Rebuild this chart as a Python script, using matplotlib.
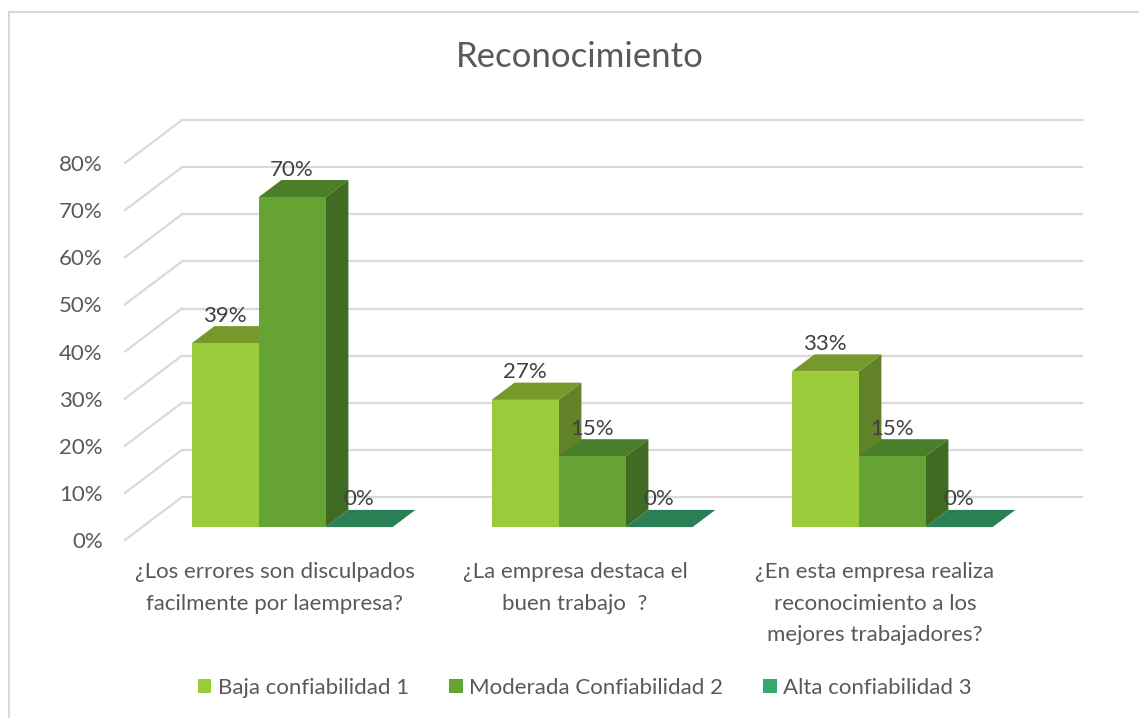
import matplotlib
matplotlib.use("Agg")
import matplotlib.pyplot as plt
from matplotlib.patches import Polygon, Rectangle
from matplotlib.lines import Line2D

categories = ["¿Los errores son disculpados\nfacilmente por laempresa?",
              "¿La empresa destaca el\nbuen trabajo  ?",
              "¿En esta empresa realiza\nreconocimiento a los\nmejores trabajadores?"]
series_names = ["Baja confiabilidad 1", "Moderada Confiabilidad 2", "Alta confiabilidad 3"]
baja = [39, 27, 33]
moderada = [70, 15, 15]
alta = [0, 0, 0]
yticks = [0, 10, 20, 30, 40, 50, 60, 70, 80]

front_colors = ["#9ACB3A", "#66A335", "#2A7F55"]
top_colors = ["#77992C", "#4B7E28", "#2A7F55"]
side_colors = ["#62822A", "#3F6B22", "#23684A"]
legend_colors = ["#9ACB3A", "#66A335", "#35A86E"]
text_color = "#595959"
grid_color = "#D9D9D9"

plt.rcParams['font.family'] = ['Lato', 'DejaVu Sans']

W, H = 1139, 718
fig = plt.figure(figsize=(W / 100, H / 100), dpi=100)
# front plane: x 0..3 -> px 125..1025, y 0..80 -> px 540..163
ax = fig.add_axes([125 / W, 1 - 540 / H, 900 / W, 377 / H])
ax.set_xlim(0, 3)
ax.set_ylim(0, 80)
for s in ax.spines.values():
    s.set_visible(False)

px_per_x = 900 / 3
px_per_y = 377 / 80
DX = 57 / px_per_x      # depth offset in x units
DY = 43 / px_per_y      # depth offset in y units
f0, f1 = 0.30, 0.70     # bar depth range (fraction)

# gridlines: side wall diagonal + back wall
for t in yticks:
    ax.add_line(Line2D([0, DX], [t, t + DY], color=grid_color, lw=1.6, clip_on=False, zorder=1))
    ax.add_line(Line2D([DX, 3 + DX], [t + DY, t + DY], color=grid_color, lw=1.6, clip_on=False, zorder=1))

ax.set_yticks(yticks)
ax.set_yticklabels([f"{t}%" for t in yticks])
ax.set_xticks([0.5, 1.5, 2.5])
ax.set_xticklabels(categories, linespacing=1.72)
ax.tick_params(axis='y', length=0, pad=16, labelsize=16, labelcolor=text_color)
ax.tick_params(axis='x', length=0, pad=16, labelsize=16, labelcolor=text_color)
for lab in ax.get_xticklabels():
    lab.set_verticalalignment('top')
    lab.set_horizontalalignment('center')
    lab.set_multialignment('center')

w = 0.2233
gap_left = (1 - 3 * w) / 2
bx, by = (f1 - f0) * DX, (f1 - f0) * DY
ox, oy = f0 * DX, f0 * DY
all_series = [baja, moderada, alta]
z = 3
for j in range(3):
    for i, vals in enumerate(all_series):
        v = vals[j]
        x0 = j + gap_left + i * w + ox
        y0 = oy
        if v > 0:
            ax.bar(x0, v, width=w, bottom=y0, align='edge', color=front_colors[i],
                   edgecolor='none', zorder=z + 2, clip_on=False)
            side = Polygon([(x0 + w, y0), (x0 + w + bx, y0 + by), (x0 + w + bx, y0 + v + by),
                            (x0 + w, y0 + v)], closed=True, facecolor=side_colors[i],
                           edgecolor='none', zorder=z + 1, clip_on=False)
            ax.add_patch(side)
        top = Polygon([(x0, y0 + v), (x0 + w, y0 + v), (x0 + w + bx, y0 + v + by),
                       (x0 + bx, y0 + v + by)], closed=True, facecolor=top_colors[i],
                      edgecolor='none', zorder=z + 1, clip_on=False)
        ax.add_patch(top)
        ax.text(x0 + w / 2, y0 + v + by + 0.1, f"{v}%", ha='center', va='bottom',
                fontsize=16, color="#404040", zorder=100, clip_on=False)
        z += 3

# title
fig.text(580 / W, 1 - 57 / H, "Reconocimiento", ha='center', va='center',
         fontsize=25, color=text_color)

# legend
leg_handles = [Rectangle((0, 0), 1, 1, facecolor=c, edgecolor='none') for c in legend_colors]
leg = fig.legend(leg_handles, series_names, loc='center', bbox_to_anchor=(585 / W, 1 - 688 / H),
                 ncol=3, frameon=False, fontsize=16, labelcolor=text_color,
                 handlelength=0.6, handleheight=0.6, handletextpad=0.3, columnspacing=1.8)

# chart border
fig.add_artist(Line2D([9 / W, 9 / W], [0, 1 - 12 / H], color="#D9D9D9", lw=1.5,
                      transform=fig.transFigure))
fig.add_artist(Line2D([9 / W, 1], [1 - 12 / H, 1 - 12 / H], color="#D9D9D9", lw=1.5,
                      transform=fig.transFigure))

fig.savefig("out.png", dpi=100, facecolor='white')
